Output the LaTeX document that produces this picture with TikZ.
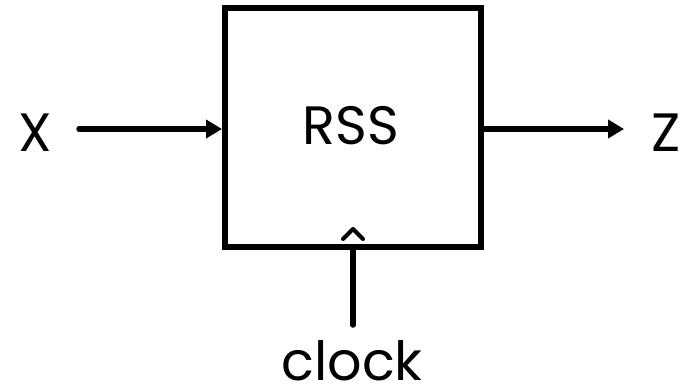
\documentclass[tikz,border=0pt]{standalone}
\usepackage{fontspec}
\setmainfont{Poppins}
\usetikzlibrary{arrows.meta}
\begin{document}
\begin{tikzpicture}[x=1pt,y=-1pt,
  wire/.style={line width=5.5pt,-{Triangle[length=16pt,width=18pt]}},
  lbl/.style={font=\fontsize{54}{58}\selectfont,inner sep=0pt}]
\useasboundingbox (0,0) rectangle (691,391);
\node[draw,line width=6pt,minimum width=256pt,minimum height=239pt,inner sep=0pt] (rss) at (353,127.5) {};
\node[lbl] (rsslbl) at (351,126) {RSS};
\node[lbl] (x) at (35,132.5) {X};
\node[lbl] (z) at (666,132.5) {Z};
\node[lbl,anchor=base,text depth=0pt] (clk) at (352,380) {clock};
\coordinate (xin) at (79,129);
\coordinate (zout) at (624,129);
\coordinate (cin) at (353,325);
\draw[wire,line cap=round] (xin) -- (xin -| rss.west);
\draw[wire] (zout -| rss.east) -- (zout);
\draw[line width=5.5pt,line cap=round] (cin) -- (cin |- rss.south);
\draw[line width=4pt,line cap=round,line join=round] (343,239) -- (353,229) -- (363,239);
\end{tikzpicture}
\end{document}
